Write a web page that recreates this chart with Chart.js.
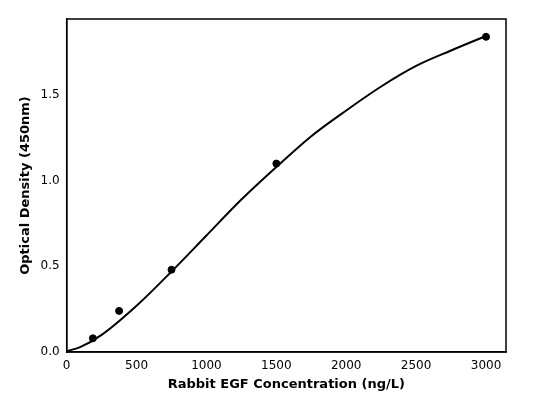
<!DOCTYPE html>
<html><head><script src="https://cdn.jsdelivr.net/npm/chart.js"></script>
<style>html,body{margin:0;background:#fff}#w{width:533px;height:400px}</style></head>
<body><div id="w"><canvas id="c"></canvas></div>
<script>
const pointX=[187.5,375,750,1500,3000];
const pointY=[0.08,0.24,0.48,1.10,1.84];
const curveX=[0,100,250,500,750,1000,1250,1500,1750,2000,2250,2500,2750,3000];
const curveY=[0.005,0.03,0.10,0.27,0.47,0.68,0.89,1.08,1.26,1.41,1.55,1.67,1.76,1.845];
const xTicks=[0,500,1000,1500,2000,2500,3000];
const yTicks=[0,0.5,1.0,1.5];
Chart.defaults.font.family='DejaVu Sans';
Chart.defaults.color='#000';
const frame={id:'frame',afterDraw(ch){const a=ch.chartArea,x=ch.ctx;x.save();x.strokeStyle='#000';x.lineWidth=1.5;x.strokeRect(a.left,a.top,a.right-a.left,a.bottom-a.top);x.restore();}};
new Chart(document.getElementById('c'),{
type:'scatter',
data:{datasets:[
{data:curveX.map((x,i)=>({x,y:curveY[i]})),showLine:true,borderColor:'#000',borderWidth:2,pointRadius:0,cubicInterpolationMode:'monotone'},
{data:pointX.map((x,i)=>({x,y:pointY[i]})),backgroundColor:'#000',borderColor:'#000',pointRadius:3.5}
]},
options:{responsive:true,maintainAspectRatio:false,animation:false,
layout:{padding:{top:19,right:27,left:14,bottom:4}},
plugins:{legend:{display:false},tooltip:{enabled:false}},
scales:{
x:{min:0,max:3143,afterBuildTicks(s){s.ticks=xTicks.map(v=>({value:v}));},
grid:{display:false,drawTicks:true,tickLength:4,tickColor:'#000'},border:{color:'#000',width:1.5},
ticks:{font:{size:12},callback:v=>v},
title:{display:true,text:'Rabbit EGF Concentration (ng/L)',font:{size:13,weight:'bold'},padding:{top:0}}},
y:{min:0,max:1.944,afterBuildTicks(s){s.ticks=yTicks.map(v=>({value:v}));},
grid:{display:false,drawTicks:true,tickLength:4,tickColor:'#000'},border:{color:'#000',width:1.5},
ticks:{font:{size:12},callback:v=>v.toFixed(1)},
title:{display:true,text:'Optical Density (450nm)',font:{size:13,weight:'bold'},padding:{bottom:4}}}
}},
plugins:[frame]});
</script></body></html>
